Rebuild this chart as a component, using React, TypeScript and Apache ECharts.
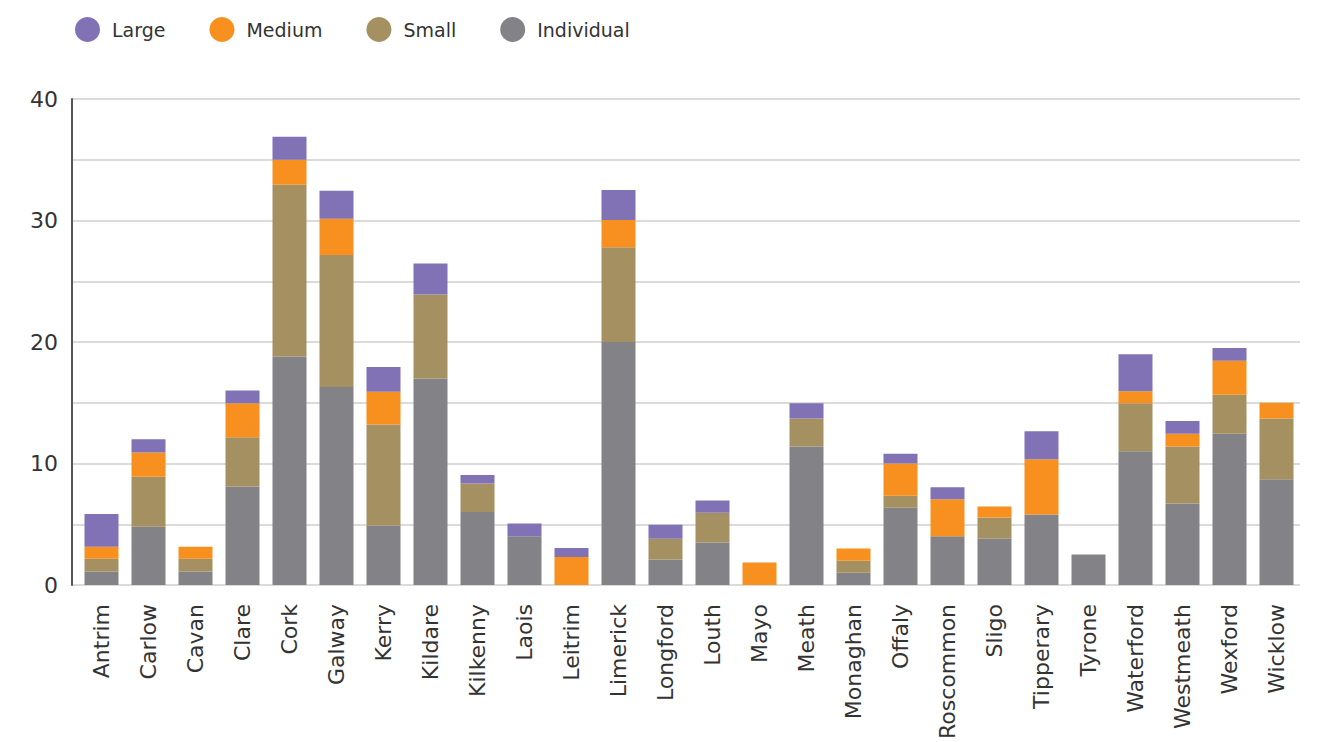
import React, { useEffect, useRef } from "react";
import * as echarts from "echarts";

const categories = [
  "Antrim", "Carlow", "Cavan", "Clare", "Cork", "Galway", "Kerry", "Kildare",
  "Kilkenny", "Laois", "Leitrim", "Limerick", "Longford", "Louth", "Mayo", "Meath",
  "Monaghan", "Offaly", "Roscommon", "Sligo", "Tipperary", "Tyrone", "Waterford",
  "Westmeath", "Wexford", "Wicklow",
];

const individual = [1.1, 4.8, 1.1, 8.1, 18.8, 16.3, 4.9, 17.0, 6.0, 4.0, 0, 20.0, 2.1, 3.5, 0, 11.4, 1.0, 6.35, 4.0, 3.8, 5.8, 2.5, 11.0, 6.7, 12.45, 8.7];
const small = [1.05, 4.1, 1.05, 4.05, 14.15, 10.85, 8.3, 6.9, 2.35, 0, 0, 7.8, 1.7, 2.45, 0, 2.3, 1.0, 1.0, 0, 1.75, 0, 0, 3.95, 4.7, 3.2, 5.0];
const medium = [1.0, 2.0, 1.0, 2.8, 2.05, 3.0, 2.7, 0, 0, 0, 2.3, 2.25, 0, 0, 1.85, 0, 1.0, 2.65, 3.05, 0.9, 4.55, 0, 1.0, 1.05, 2.8, 1.3];
const large = [2.7, 1.1, 0, 1.05, 1.9, 2.3, 2.05, 2.55, 0.7, 1.05, 0.75, 2.45, 1.15, 1.0, 0, 1.25, 0, 0.8, 1.0, 0, 2.3, 0, 3.05, 1.05, 1.05, 0];

const yTicks = [0, 10, 20, 30, 40];

const COLORS = {
  Large: "#8072b5",
  Medium: "#f7901f",
  Small: "#a59062",
  Individual: "#838387",
};

const FONT = "'DejaVu Sans', 'Noto Sans', sans-serif";

export default function App() {
  const ref = useRef<HTMLDivElement>(null);

  useEffect(() => {
    document.body.style.margin = "0";
    if (!ref.current) return;
    const chart = echarts.init(ref.current, undefined, { renderer: "svg" });

    const mkSeries = (name: string, data: number[]) => ({
      name,
      type: "bar",
      stack: "total",
      xAxisIndex: 0,
      yAxisIndex: 0,
      barWidth: 34,
      data,
      itemStyle: { color: (COLORS as any)[name] },
      emphasis: { disabled: true },
    });

    chart.setOption({
      animation: false,
      textStyle: { fontFamily: FONT },
      legend: {
        data: ["Large", "Medium", "Small", "Individual"],
        left: 70,
        top: 12,
        icon: "circle",
        itemWidth: 25,
        itemHeight: 25,
        itemGap: 44,
        textStyle: { fontSize: 19, color: "#333", fontFamily: FONT, padding: [4, 0, 0, 7] },
      },
      grid: [
        { left: 78, right: 19, top: 99, bottom: 157 },
        { left: 72, right: 19, top: 99, bottom: 157 },
      ],
      xAxis: [
        {
          type: "category",
          gridIndex: 0,
          data: categories,
          axisLine: { show: false },
          axisTick: { show: false },
          axisLabel: {
            interval: 0,
            rotate: 90,
            margin: 19,
            fontSize: 22,
            color: "#333",
            fontFamily: FONT,
          },
        },
        { type: "value", gridIndex: 1, show: false, min: 0, max: 1 },
      ],
      yAxis: [
        { type: "value", gridIndex: 0, min: 0, max: 40, interval: 5, show: false },
        {
          type: "value",
          gridIndex: 1,
          min: 0,
          max: 40,
          interval: 5,
          axisLine: { show: true, lineStyle: { color: "#555", width: 2 } },
          axisTick: { show: false },
          splitLine: { show: true, lineStyle: { color: "#cfcfcf", width: 1.5 } },
          axisLabel: {
            margin: 14,
            fontSize: 22,
            color: "#333",
            fontFamily: FONT,
            padding: [0, 0, 8, 0],
            formatter: (v: number) => (yTicks.includes(v) ? String(v) : ""),
          },
        },
      ],
      series: [
        mkSeries("Individual", individual),
        mkSeries("Small", small),
        mkSeries("Medium", medium),
        mkSeries("Large", large),
      ],
    });

    return () => chart.dispose();
  }, []);

  return <div ref={ref} style={{ width: 1319, height: 742 }} />;
}
